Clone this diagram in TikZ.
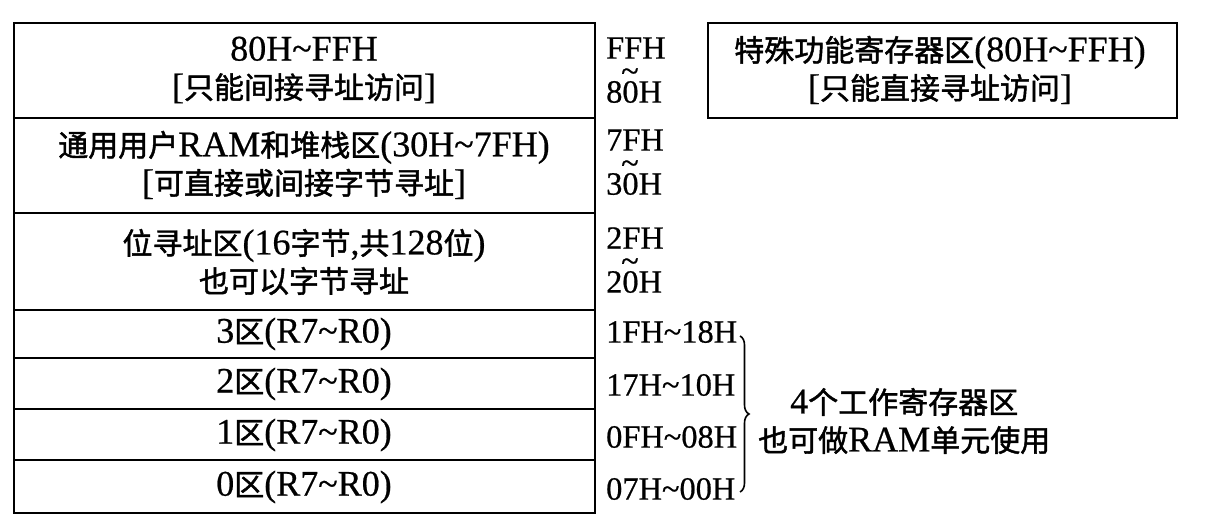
\documentclass[tikz,border=0pt]{standalone}
\usepackage{fontspec}
\setmainfont{Liberation Serif}[Scale=1.2,FakeBold=0.6]
\newfontfamily\cjk{Noto Sans CJK SC}[FakeBold=1.5]
\usetikzlibrary{decorations.pathreplacing}
\newcommand{\zh}[1]{{\cjk #1}}
\newcommand{\tl}{\textasciitilde}
\begin{document}
\begin{tikzpicture}[x=1pt,y=-1pt,
  box/.style={draw,line width=2.6pt},
  txt/.style={font=\fontsize{30}{38}\selectfont,align=center,inner sep=0},
  lab/.style={font=\fontsize{27}{30}\selectfont,anchor=west,inner sep=0}]
\useasboundingbox (0,0) rectangle (1231,522);
\draw[box] (14,23) rectangle (595,513);
\foreach \y in {118,213,310,358,409,460} \draw[line width=2.6pt] (14,\y) -- (595,\y);
\draw[box] (708,23) rectangle (1177,118);
\node[txt] (a) at (304,70) {80H\tl FFH\\{}[\zh{只能间接寻址访问}]};
\node[txt] (b) at (304,165) {\zh{通用用户}RAM\zh{和堆栈区}(30H\tl 7FH)\\{}[\zh{可直接或间接字节寻址}]};
\node[txt] (c) at (304,262) {\zh{位寻址区}(16\zh{字节},\zh{共}128\zh{位})\\\zh{也可以字节寻址}};
\node[txt] (r3) at (304,334) {3\zh{区}(R7\tl R0)};
\node[txt] (r2) at (304,384) {2\zh{区}(R7\tl R0)};
\node[txt] (r1) at (304,435) {1\zh{区}(R7\tl R0)};
\node[txt] (r0) at (304,487) {0\zh{区}(R7\tl R0)};
\node[txt] (sf) at (940,70) {\zh{特殊功能寄存器区}(80H\tl FFH)\\{}[\zh{只能直接寻址访问}]};
\foreach \n/\t/\b/\y in {p/FFH/8/48, q/7FH/3/140, s/2FH/2/238}{
  \node[lab] (\n1) at (606,\y) {\t};
  \node[lab] (\n2) at (606,\y+44) {\b 0H};
  \node[font=\fontsize{27}{30}\selectfont,inner sep=0] at ([xshift=24pt,yshift=17pt]\n2.west) {\tl};
}
\node[lab] (h3) at (606,332) {1FH\tl 18H};
\node[lab] (h2) at (606,385) {17H\tl 10H};
\node[lab] (h1) at (606,437) {0FH\tl 08H};
\node[lab] (h0) at (606,489) {07H\tl 00H};
\draw[line width=1.6pt,decorate,decoration={brace,amplitude=9pt}] (740,336) -- (740,492);
\node[txt,anchor=west] (w) at (758,421) {4\zh{个工作寄存器区}\\\zh{也可做}RAM\zh{单元使用}};
\end{tikzpicture}
\end{document}
